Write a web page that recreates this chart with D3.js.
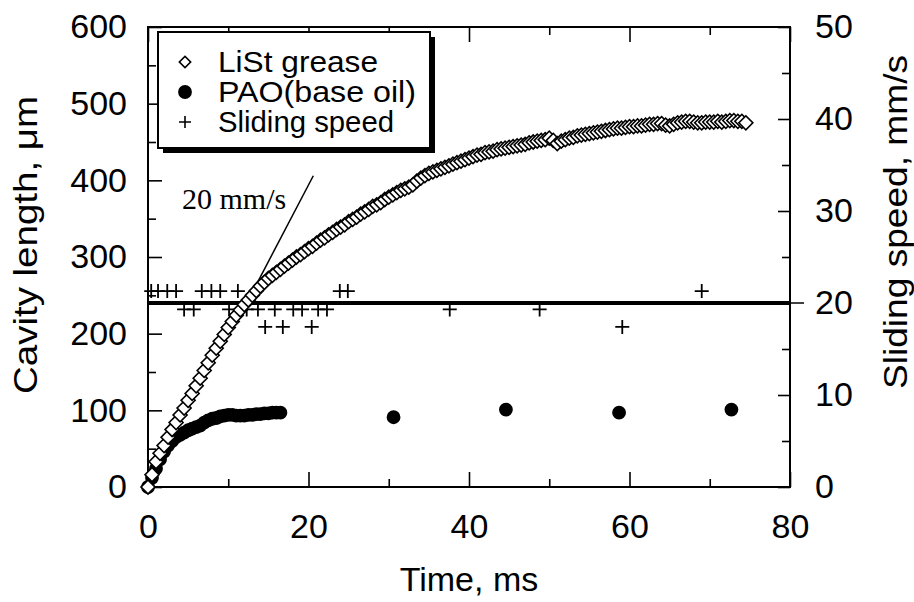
<!DOCTYPE html>
<html><head><meta charset="utf-8">
<script src="https://cdn.jsdelivr.net/npm/d3@7"></script>
<style>body{margin:0;background:#fff}svg{display:block}</style>
</head><body>
<svg id="c" width="914" height="602"></svg>
<script>
// ---- data ----
const listTime = [0,0.5,1,1.5,2,2.5,3,3.5,4,4.5,5,5.5,6,6.5,7,7.5,8,8.5,9,9.5,10,10.5,11,11.5,12,12.5,13,13.5,14,14.5,15,15.5,16,16.5,17,17.5,18,18.5,19,19.5,20,20.5,21,21.5,22,22.5,23,23.5,24,24.5,25,25.5,26,26.5,27,27.5,28,28.5,29,29.5,30,30.5,31,31.5,32,32.5,33,33.5,34,34.5,35,35.5,36,36.5,37,37.5,38,38.5,39,39.5,40,40.5,41,41.5,42,42.5,43,43.5,44,44.5,45,45.5,46,46.5,47,47.5,48,48.5,49,49.5,50,50.5,51,51.5,52,52.5,53,53.5,54,54.5,55,55.5,56,56.5,57,57.5,58,58.5,59,59.5,60,60.5,61,61.5,62,62.5,63,63.5,64,64.5,65,65.5,66,66.5,67,67.5,68,68.5,69,69.5,70,70.5,71,71.5,72,72.5,73,73.5,74,74.5];
const listCavity = [0,16,33,44,54,65,75,84,94,103,113,122,132,142,152,162,172,181,190,199,208,216,224,231,238,244,250,256,262,267,272,276,280,284,288,292,296,300,303,307,311,314,318,322,325,329,332,336,339,342,346,349,352,356,359,362,366,368,371,375,378,381,384,387,389,391,394,399,403,406,409,411,413,415,417,419,421,423,425,427,429,431,433,434,436,437,438,440,441,442,443,444,445,446,447,449,450,451,452,453,455,452,448,451,453,455,456,458,459,460,461,462,463,464,465,466,467,468,468,469,470,470,471,471,472,473,473,474,474,472,471,473,475,476,477,477,476,475,475,476,476,476,477,476,477,478,478,477,477,475];

const paoTime = [0,0.5,1,1.5,2,2.5,3,3.5,4,4.5,5,5.5,6,6.5,7,7.5,8,8.5,9,9.5,10,10.5,11,11.5,12,12.5,13,13.5,14,14.5,15,15.5,16,16.5,30.6,44.6,58.7,72.7];
const paoCavity = [0,12,24,36,46,54,60,65,68,71,74,76,78,80,84,87,89,90,92,93,94,94,93,93,93,94,94,95,95,96,96,97,97,97,91,101,97,101];

const speedTime = [0.4,1.25,2.4,3.5,4.5,5.7,6.7,7.9,9.0,10.1,11.2,12.3,13.7,14.6,15.8,16.8,18.1,19.2,20.4,21.2,22.3,23.9,24.9,37.6,48.8,59.1,69.0];
const speedValue = [21.3,21.3,21.3,21.3,19.3,19.3,21.3,21.3,21.3,19.3,21.3,19.3,19.3,17.4,19.3,17.4,19.3,19.3,17.4,19.3,19.3,21.3,21.3,19.3,19.3,17.4,21.3];

const targetSpeed = 20;
const slopeLine = [[12.3,240],[20.6,406]];
const slopeLabel = "20 mm/s";

const xTicks = [0,20,40,60,80], xMinor = [10,30,50,70];
const yTicks = [0,100,200,300,400,500,600], yMinor = [50,150,250,350,450,550];
const y2Ticks = [0,10,20,30,40,50], y2Minor = [5,15,25,35,45];
const legendLabels = ["LiSt grease","PAO(base oil)","Sliding speed"];
const xTitle = "Time, ms", yTitle = "Cavity length, \u03bcm", y2Title = "Sliding speed, mm/s";

// ---- chart ----
const svg = d3.select("#c");
const L=148,R=790,T=27,B=487;
const x = d3.scaleLinear([0,80],[L,R]);
const y = d3.scaleLinear([0,600],[B,T]);
const y2 = d3.scaleLinear([0,50],[B,T]);
const sans = "'Liberation Sans', Arial, Helvetica, sans-serif";

function styleAxis(g){
  g.select(".domain").remove();
  g.selectAll(".tick line").attr("stroke","#000").attr("stroke-width",1.6);
  g.selectAll(".tick text").attr("fill","#000").style("font-family",sans).style("font-size","34px");
}
// bottom
svg.append("g").attr("transform",`translate(0,${B})`)
  .call(d3.axisBottom(x).tickValues(xTicks).tickSizeInner(-15).tickSizeOuter(0).tickPadding(27).tickFormat(d3.format("d"))).call(styleAxis);
svg.append("g").attr("transform",`translate(0,${B})`)
  .call(d3.axisBottom(x).tickValues(xMinor).tickSizeInner(-8).tickSizeOuter(0).tickFormat("")).call(styleAxis);
// top
svg.append("g").attr("transform",`translate(0,${T})`)
  .call(d3.axisTop(x).tickValues(xTicks).tickSizeInner(-15).tickSizeOuter(0).tickFormat("")).call(styleAxis);
svg.append("g").attr("transform",`translate(0,${T})`)
  .call(d3.axisTop(x).tickValues(xMinor).tickSizeInner(-8).tickSizeOuter(0).tickFormat("")).call(styleAxis);
// left
svg.append("g").attr("transform",`translate(${L},0)`)
  .call(d3.axisLeft(y).tickValues(yTicks).tickSizeInner(-14).tickSizeOuter(0).tickPadding(21).tickFormat(d3.format("d"))).call(styleAxis);
svg.append("g").attr("transform",`translate(${L},0)`)
  .call(d3.axisLeft(y).tickValues(yMinor).tickSizeInner(-8).tickSizeOuter(0).tickFormat("")).call(styleAxis);
// right
svg.append("g").attr("transform",`translate(${R},0)`)
  .call(d3.axisRight(y2).tickValues(y2Ticks).tickSizeInner(-12).tickSizeOuter(0).tickPadding(25).tickFormat(d3.format("d"))).call(styleAxis);
svg.append("g").attr("transform",`translate(${R},0)`)
  .call(d3.axisRight(y2).tickValues(y2Minor).tickSizeInner(-8).tickSizeOuter(0).tickFormat("")).call(styleAxis);

// frame
svg.append("rect").attr("x",L).attr("y",T).attr("width",R-L).attr("height",B-T)
  .attr("fill","none").attr("stroke","#000").attr("stroke-width",2);

// titles
svg.append("text").attr("x",(L+R)/2).attr("y",591).attr("text-anchor","middle")
  .style("font-family",sans).style("font-size","34px").text(xTitle);
svg.append("text").attr("transform","translate(37,245) rotate(-90)").attr("text-anchor","middle")
  .attr("textLength",298).attr("lengthAdjust","spacingAndGlyphs")
  .style("font-family",sans).style("font-size","34px").text(yTitle);
svg.append("text").attr("transform","translate(907,222) rotate(-90)").attr("text-anchor","middle")
  .attr("textLength",334).attr("lengthAdjust","spacingAndGlyphs")
  .style("font-family",sans).style("font-size","34px").text(y2Title);

// target speed line
svg.append("line").attr("x1",x(0)).attr("x2",x(80)).attr("y1",y2(targetSpeed)).attr("y2",y2(targetSpeed))
  .attr("stroke","#000").attr("stroke-width",4);
svg.append("line").attr("x1",x(80)).attr("x2",x(80)+14).attr("y1",y2(targetSpeed)).attr("y2",y2(targetSpeed))
  .attr("stroke","#000").attr("stroke-width",1.5);

// slope line & label
svg.append("path").datum(slopeLine).attr("d",d3.line(d=>x(d[0]),d=>y(d[1])))
  .attr("stroke","#000").attr("stroke-width",1.5).attr("fill","none");
svg.append("text").attr("x",182).attr("y",209)
  .style("font-family","'Liberation Serif','Times New Roman',serif").style("font-size","30px").text(slopeLabel);

// symbols
const crossPath = "M-7,0H7M0,-7V7";
const diamond = d3.symbol(d3.symbolSquare, 98)();
const circle = d3.symbol(d3.symbolCircle, 150)();

svg.append("g").selectAll("path").data(speedTime).join("path")
  .attr("transform",(d,i)=>`translate(${x(d)},${y2(speedValue[i])})`)
  .attr("d",crossPath).attr("stroke","#000").attr("stroke-width",1.8).attr("fill","none");

svg.append("g").selectAll("path").data(paoTime).join("path")
  .attr("transform",(d,i)=>`translate(${x(d)},${y(paoCavity[i])})`)
  .attr("d",circle).attr("fill","#000");

svg.append("g").selectAll("path").data(listTime).join("path")
  .attr("transform",(d,i)=>`translate(${x(d)},${y(listCavity[i])}) rotate(45)`)
  .attr("d",diamond).attr("fill","#fff").attr("stroke","#000").attr("stroke-width",1.6);

// legend
const lg = svg.append("g");
lg.append("rect").attr("x",163).attr("y",37).attr("width",272).attr("height",116).attr("fill","#000");
lg.append("rect").attr("x",158).attr("y",32).attr("width",272).attr("height",116)
  .attr("fill","#fff").attr("stroke","#000").attr("stroke-width",2);
const ly = [62,92,122];
lg.append("path").attr("transform",`translate(185,${ly[0]}) rotate(45)`).attr("d",d3.symbol(d3.symbolSquare,64)())
  .attr("fill","#fff").attr("stroke","#000").attr("stroke-width",1.6);
lg.append("path").attr("transform",`translate(185,${ly[1]})`).attr("d",circle).attr("fill","#000");
lg.append("path").attr("transform",`translate(185,${ly[2]})`).attr("d","M-6,0H6M0,-6V6").attr("stroke","#000").attr("stroke-width",1.6);
lg.selectAll("text.l").data(legendLabels).join("text").attr("class","l")
  .attr("x",218).attr("y",(d,i)=>ly[i]+10)
  .attr("textLength",(d,i)=>[160,198,176][i]).attr("lengthAdjust","spacingAndGlyphs")
  .style("font-family",sans).style("font-size","29px").text(d=>d);
</script>
</body></html>
